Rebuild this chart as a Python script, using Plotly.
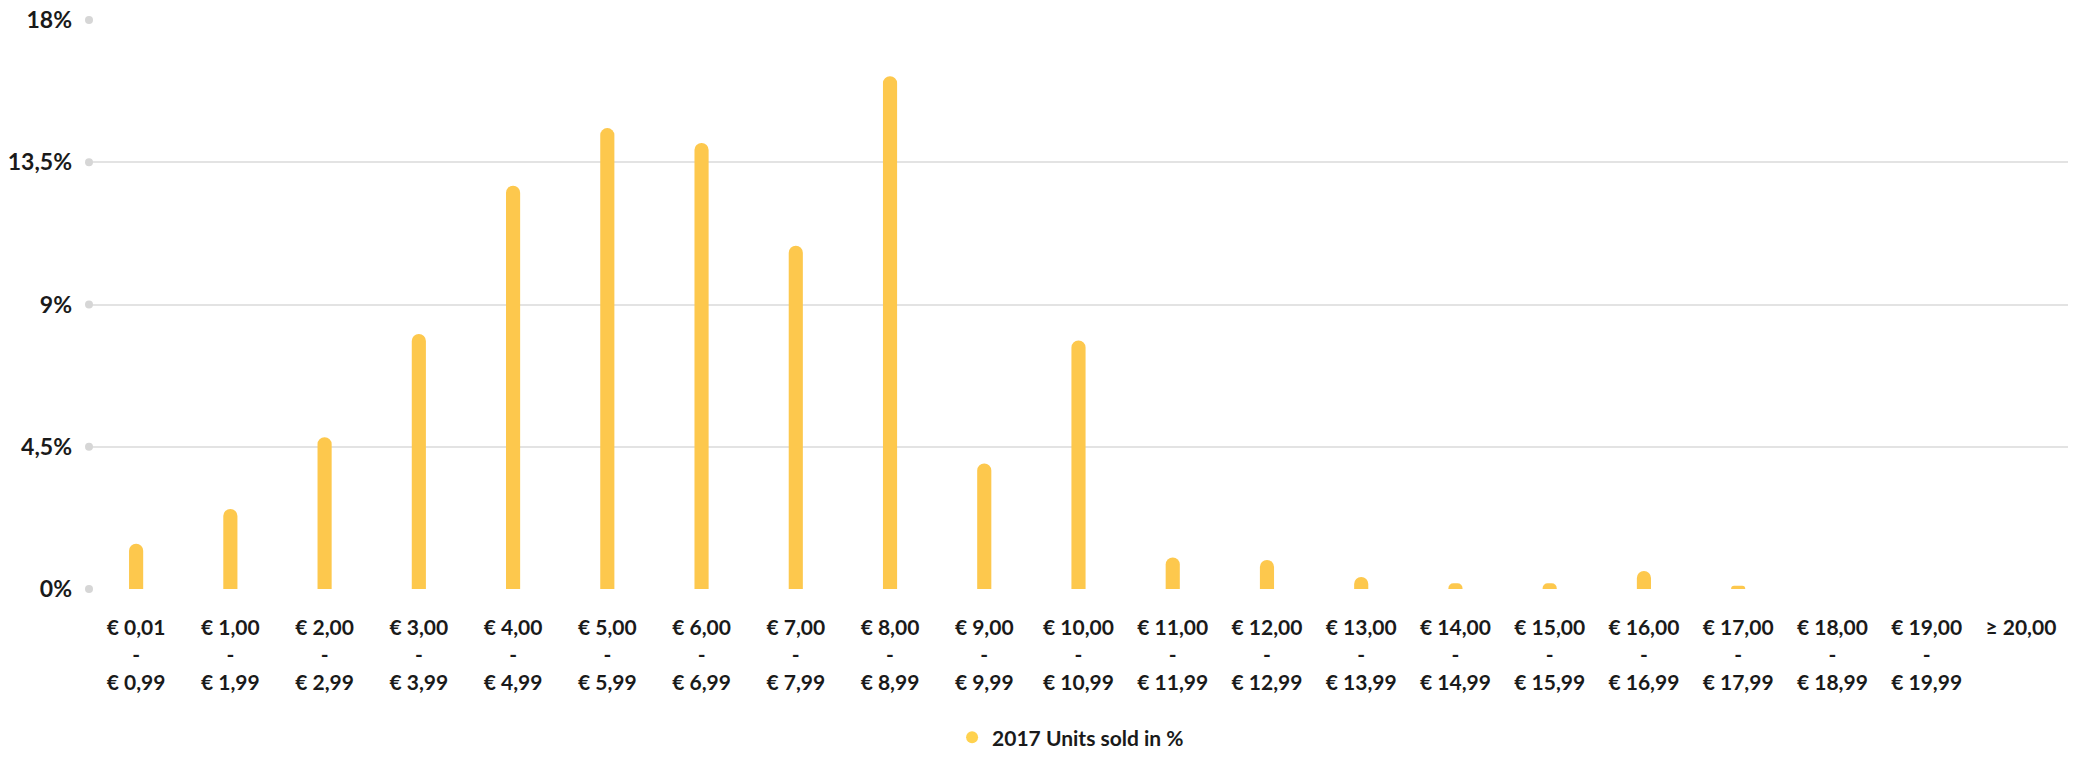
import plotly.graph_objects as go

categories = ["€ 0,01<br>-<br>€ 0,99", "€ 1,00<br>-<br>€ 1,99", "€ 2,00<br>-<br>€ 2,99",
              "€ 3,00<br>-<br>€ 3,99", "€ 4,00<br>-<br>€ 4,99", "€ 5,00<br>-<br>€ 5,99",
              "€ 6,00<br>-<br>€ 6,99", "€ 7,00<br>-<br>€ 7,99", "€ 8,00<br>-<br>€ 8,99",
              "€ 9,00<br>-<br>€ 9,99", "€ 10,00<br>-<br>€ 10,99", "€ 11,00<br>-<br>€ 11,99",
              "€ 12,00<br>-<br>€ 12,99", "€ 13,00<br>-<br>€ 13,99", "€ 14,00<br>-<br>€ 14,99",
              "€ 15,00<br>-<br>€ 15,99", "€ 16,00<br>-<br>€ 16,99", "€ 17,00<br>-<br>€ 17,99",
              "€ 18,00<br>-<br>€ 18,99", "€ 19,00<br>-<br>€ 19,99", "≥ 20,00"]
units_2017 = [1.43, 2.53, 4.8, 8.07, 12.76, 14.58, 14.11, 10.86, 16.22, 3.97, 7.86,
              1.0, 0.92, 0.38, 0.18, 0.18, 0.57, 0.1, 0, 0, 0]
y_ticks = [0, 4.5, 9, 13.5, 18]
y_tick_labels = ["0%", "4,5%", "9%", "13,5%", "18%"]
series_name = "2017 Units sold in %"

x_pos = list(range(len(categories)))
font_family = "Lato, 'Open Sans', sans-serif"

fig = go.Figure()
fig.add_trace(go.Bar(
    x=x_pos, y=units_2017, name=series_name, showlegend=False,
    marker=dict(color="#FDC84D", cornerradius=7, line=dict(width=0)),
    hoverinfo="y",
))
# grey dots at the start of grid lines
fig.add_trace(go.Scatter(
    x=[-0.5] * len(y_ticks), y=y_ticks, mode="markers", showlegend=False,
    marker=dict(color="#d6d6d6", size=8), cliponaxis=False, hoverinfo="skip",
))
# legend entry with circle symbol
fig.add_trace(go.Scatter(
    x=[None], y=[None], mode="markers", name=series_name,
    marker=dict(color="#FFD24F", size=13, symbol="circle"),
))

fig.update_layout(
    width=2089, height=762,
    margin=dict(l=89, r=21, t=20, b=173, autoexpand=False),
    paper_bgcolor="white", plot_bgcolor="white",
    bargap=0.85,
    font=dict(family=font_family, color="#1a1a1a", size=20),
    legend=dict(orientation="h", x=0.496, xanchor="center",
                yref="container", y=0.005, yanchor="bottom",
                font=dict(size=21, family=font_family, color="#1a1a1a", weight=700),
                itemsizing="constant"),
)
fig.update_xaxes(
    range=[-0.5, 20.5], tickmode="array", tickvals=x_pos, ticktext=categories,
    showgrid=False, zeroline=False, showline=False, ticks="",
    tickfont=dict(size=21, family=font_family, color="#1a1a1a", weight=700),
    ticklabelstandoff=24,
)
fig.update_yaxes(
    range=[0, 18], tickmode="array", tickvals=y_ticks, ticktext=y_tick_labels,
    showgrid=True, gridcolor="#e3e3e3", gridwidth=2, zeroline=False, showline=False,
    ticks="", ticklabelstandoff=16,
    tickfont=dict(size=23, family=font_family, color="#1a1a1a", weight=700),
)

fig.write_html("out.html")
